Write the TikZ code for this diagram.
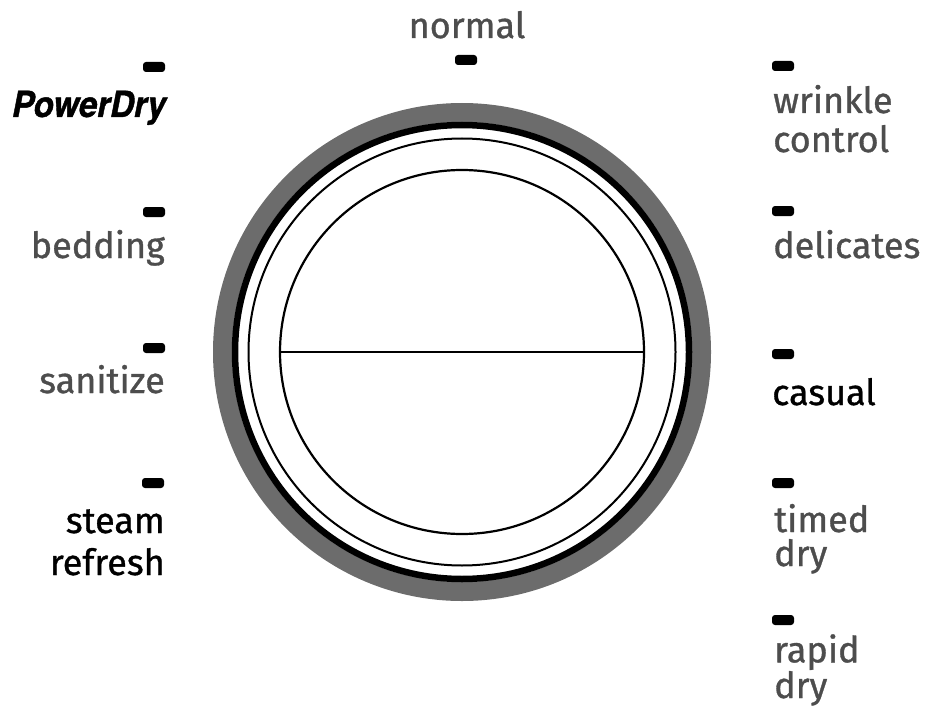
\documentclass[tikz,border=0pt]{standalone}
\usepackage{graphicx}
\usepackage{fontspec}
\setmainfont{Fira Sans}[FakeBold=0.9]
\newfontfamily\heros{TeX Gyre Heros}[BoldItalicFeatures={FakeBold=1.2}]
\definecolor{ringgray}{RGB}{108,108,108}
\definecolor{labelgray}{RGB}{77,77,77}

\begin{document}
\begin{tikzpicture}[x=1pt,y=-1pt,
    tick/.style={fill=black,rounded corners=3pt,minimum width=22pt,minimum height=10pt,inner sep=0pt},
    setting/.style={font=\fontsize{36}{#1}\selectfont,text=labelgray,inner sep=0pt},
    setting/.default=36]
  \useasboundingbox (0,0) rectangle (928,714);

  % dial
  \draw[ringgray,line width=19pt] (462,352) circle[radius=239.5pt];
  \draw[line width=6.5pt] (462,352) circle[radius=227pt];
  \draw[line width=2pt] (462,352) circle[radius=213.5pt];
  \node[circle,draw,line width=2.2pt,minimum size=364pt,inner sep=0pt] (face) at (462,352) {};
  \draw[line width=2pt] (face.west) -- (face.east);

  % ticks
  \node[tick] (t-normal) at (466,60) {};
  \node[tick] (t-powerdry) at (154,67) {};
  \node[tick] (t-bedding) at (154,212) {};
  \node[tick] (t-sanitize) at (154,348) {};
  \node[tick] (t-steam) at (153,483) {};
  \node[tick] (t-wrinkle) at (783,66) {};
  \node[tick] (t-delicates) at (783,211) {};
  \node[tick] (t-casual) at (783,354) {};
  \node[tick] (t-timed) at (783,483) {};
  \node[tick] (t-rapid) at (783,620) {};

  % settings (multi-line nodes sit on their last baseline)
  \node[setting,anchor=base] (l-normal) at (467,38) {normal};
  \node[anchor=base east,inner sep=0pt,font=\heros\bfseries\itshape\fontsize{36}{36}\selectfont] (l-powerdry) at (166,117) {\scalebox{0.92}[1]{PowerDry}};
  \node[setting,anchor=base east] (l-bedding) at (165,258) {bedding};
  \node[setting,anchor=base east] (l-sanitize) at (165,393) {sanitize};
  \node[setting=42,anchor=base east,align=right,text=black] (l-steam) at (165,575) {steam\\refresh};
  \node[setting=39,anchor=base west,align=left] (l-wrinkle) at (773,152) {wrinkle\\control};
  \node[setting,anchor=base west] (l-delicates) at (773,258) {delicates};
  \node[setting,anchor=base west,text=black] (l-casual) at (772,405) {casual};
  \node[setting=34,anchor=base west,align=left] (l-timed) at (774,566) {timed\\dry};
  \node[setting=33,anchor=base west,align=left] (l-rapid) at (774,698) {rapid\\dry};
\end{tikzpicture}
\end{document}
